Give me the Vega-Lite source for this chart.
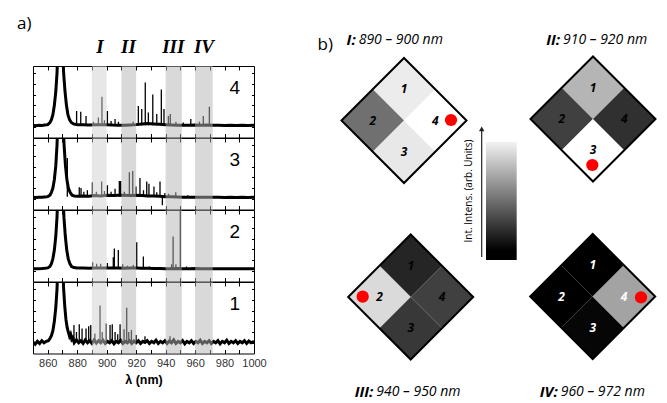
{
"$schema": "https://vega.github.io/schema/vega-lite/v6.json",
"padding": {"left": 17, "top": 10, "right": 0, "bottom": 0},
"background": "white",
"config": {
  "view": {"stroke": "black", "strokeWidth": 1},
  "font": "Open Sans",
  "axis": {"domain": false, "grid": false, "tickColor": "black", "tickWidth": 1, "labelFont": "Liberation Sans", "labelFontSize": 11, "labelColor": "#333", "titleFont": "Liberation Sans"}
},
"datasets": {
  "roman": [{"label": "I", "nm": 895.5}, {"label": "II", "nm": 914.8}, {"label": "III", "nm": 945.2}, {"label": "IV", "nm": 966}],
  "bands": [{"band": "I", "lo": 890, "hi": 900}, {"band": "II", "lo": 910, "hi": 920}, {"band": "III", "lo": 940, "hi": 951}, {"band": "IV", "lo": 960, "hi": 972}],
  "plabels": [{"p": 4, "label": "4"}, {"p": 3, "label": "3"}, {"p": 2, "label": "2"}, {"p": 1, "label": "1"}],
  "spec": [
    {"p":4,"nm":850,"v":0.17},{"p":4,"nm":852,"v":0.165},{"p":4,"nm":854,"v":0.172},{"p":4,"nm":856,"v":0.168},{"p":4,"nm":858,"v":0.175},{"p":4,"nm":860,"v":0.18},{"p":4,"nm":861.5,"v":0.21},{"p":4,"nm":862.5,"v":0.25},{"p":4,"nm":863.5,"v":0.32},{"p":4,"nm":864.5,"v":0.45},{"p":4,"nm":865.5,"v":0.65},{"p":4,"nm":866.3,"v":0.9},{"p":4,"nm":867,"v":1.3},{"p":4,"nm":870,"v":1.3},{"p":4,"nm":870.8,"v":0.9},{"p":4,"nm":871.7,"v":0.65},{"p":4,"nm":872.7,"v":0.45},{"p":4,"nm":873.7,"v":0.32},{"p":4,"nm":874.8,"v":0.25},{"p":4,"nm":876,"v":0.21},{"p":4,"nm":877.5,"v":0.19},{"p":4,"nm":880,"v":0.18},{"p":4,"nm":884,"v":0.178},{"p":4,"nm":888,"v":0.175},{"p":4,"nm":892,"v":0.18},{"p":4,"nm":896,"v":0.178},{"p":4,"nm":900,"v":0.18},{"p":4,"nm":904,"v":0.175},{"p":4,"nm":908,"v":0.172},{"p":4,"nm":912,"v":0.17},{"p":4,"nm":916,"v":0.175},{"p":4,"nm":920,"v":0.18},{"p":4,"nm":924,"v":0.19},{"p":4,"nm":928,"v":0.195},{"p":4,"nm":932,"v":0.19},{"p":4,"nm":936,"v":0.185},{"p":4,"nm":940,"v":0.18},{"p":4,"nm":944,"v":0.175},{"p":4,"nm":948,"v":0.17},{"p":4,"nm":952,"v":0.172},{"p":4,"nm":956,"v":0.17},{"p":4,"nm":960,"v":0.175},{"p":4,"nm":964,"v":0.172},{"p":4,"nm":968,"v":0.175},{"p":4,"nm":972,"v":0.17},{"p":4,"nm":976,"v":0.172},{"p":4,"nm":980,"v":0.168},{"p":4,"nm":984,"v":0.17},{"p":4,"nm":988,"v":0.168},{"p":4,"nm":992,"v":0.17},{"p":4,"nm":996,"v":0.168},{"p":4,"nm":1000,"v":0.17},
    {"p":3,"nm":850,"v":0.17},{"p":3,"nm":852,"v":0.168},{"p":3,"nm":854,"v":0.172},{"p":3,"nm":856,"v":0.17},{"p":3,"nm":858,"v":0.175},{"p":3,"nm":860,"v":0.18},{"p":3,"nm":861.5,"v":0.2},{"p":3,"nm":862.5,"v":0.24},{"p":3,"nm":863.5,"v":0.3},{"p":3,"nm":864.5,"v":0.42},{"p":3,"nm":865.5,"v":0.62},{"p":3,"nm":866.3,"v":0.9},{"p":3,"nm":867,"v":1.3},{"p":3,"nm":870.3,"v":1.3},{"p":3,"nm":871.1,"v":0.9},{"p":3,"nm":872,"v":0.62},{"p":3,"nm":873,"v":0.42},{"p":3,"nm":874,"v":0.3},{"p":3,"nm":875.2,"v":0.24},{"p":3,"nm":876.5,"v":0.2},{"p":3,"nm":878,"v":0.19},{"p":3,"nm":880,"v":0.185},{"p":3,"nm":884,"v":0.19},{"p":3,"nm":888,"v":0.185},{"p":3,"nm":892,"v":0.195},{"p":3,"nm":896,"v":0.19},{"p":3,"nm":900,"v":0.2},{"p":3,"nm":904,"v":0.195},{"p":3,"nm":908,"v":0.2},{"p":3,"nm":912,"v":0.2},{"p":3,"nm":916,"v":0.195},{"p":3,"nm":920,"v":0.2},{"p":3,"nm":924,"v":0.195},{"p":3,"nm":928,"v":0.19},{"p":3,"nm":932,"v":0.19},{"p":3,"nm":936,"v":0.185},{"p":3,"nm":940,"v":0.18},{"p":3,"nm":944,"v":0.178},{"p":3,"nm":948,"v":0.175},{"p":3,"nm":952,"v":0.172},{"p":3,"nm":956,"v":0.17},{"p":3,"nm":960,"v":0.172},{"p":3,"nm":964,"v":0.17},{"p":3,"nm":968,"v":0.172},{"p":3,"nm":972,"v":0.17},{"p":3,"nm":976,"v":0.17},{"p":3,"nm":980,"v":0.168},{"p":3,"nm":984,"v":0.17},{"p":3,"nm":988,"v":0.168},{"p":3,"nm":992,"v":0.17},{"p":3,"nm":996,"v":0.168},{"p":3,"nm":1000,"v":0.17},
    {"p":2,"nm":850,"v":0.18},{"p":2,"nm":852,"v":0.178},{"p":2,"nm":854,"v":0.18},{"p":2,"nm":856,"v":0.182},{"p":2,"nm":858,"v":0.185},{"p":2,"nm":860,"v":0.19},{"p":2,"nm":861.5,"v":0.21},{"p":2,"nm":862.5,"v":0.25},{"p":2,"nm":863.5,"v":0.32},{"p":2,"nm":864.5,"v":0.44},{"p":2,"nm":865.5,"v":0.64},{"p":2,"nm":866.3,"v":0.9},{"p":2,"nm":867,"v":1.3},{"p":2,"nm":870.2,"v":1.3},{"p":2,"nm":871,"v":0.9},{"p":2,"nm":871.9,"v":0.64},{"p":2,"nm":872.9,"v":0.44},{"p":2,"nm":873.9,"v":0.32},{"p":2,"nm":875,"v":0.25},{"p":2,"nm":876.2,"v":0.21},{"p":2,"nm":877.7,"v":0.195},{"p":2,"nm":880,"v":0.19},{"p":2,"nm":884,"v":0.188},{"p":2,"nm":888,"v":0.185},{"p":2,"nm":892,"v":0.19},{"p":2,"nm":896,"v":0.188},{"p":2,"nm":900,"v":0.19},{"p":2,"nm":904,"v":0.188},{"p":2,"nm":908,"v":0.19},{"p":2,"nm":912,"v":0.185},{"p":2,"nm":916,"v":0.188},{"p":2,"nm":920,"v":0.19},{"p":2,"nm":924,"v":0.185},{"p":2,"nm":928,"v":0.185},{"p":2,"nm":932,"v":0.182},{"p":2,"nm":936,"v":0.182},{"p":2,"nm":940,"v":0.18},{"p":2,"nm":944,"v":0.18},{"p":2,"nm":948,"v":0.182},{"p":2,"nm":952,"v":0.18},{"p":2,"nm":956,"v":0.18},{"p":2,"nm":960,"v":0.182},{"p":2,"nm":964,"v":0.18},{"p":2,"nm":968,"v":0.18},{"p":2,"nm":972,"v":0.178},{"p":2,"nm":976,"v":0.18},{"p":2,"nm":980,"v":0.178},{"p":2,"nm":984,"v":0.18},{"p":2,"nm":988,"v":0.178},{"p":2,"nm":992,"v":0.18},{"p":2,"nm":996,"v":0.178},{"p":2,"nm":1000,"v":0.18},
    {"p":1,"nm":850,"v":0.16},{"p":1,"nm":851.5,"v":0.13},{"p":1,"nm":853,"v":0.17},{"p":1,"nm":854.5,"v":0.14},{"p":1,"nm":856,"v":0.18},{"p":1,"nm":857.5,"v":0.15},{"p":1,"nm":859,"v":0.17},{"p":1,"nm":860.5,"v":0.18},{"p":1,"nm":861.5,"v":0.21},{"p":1,"nm":862.5,"v":0.25},{"p":1,"nm":863.5,"v":0.32},{"p":1,"nm":864.5,"v":0.45},{"p":1,"nm":865.5,"v":0.65},{"p":1,"nm":866.3,"v":0.9},{"p":1,"nm":867,"v":1.3},{"p":1,"nm":870,"v":1.3},{"p":1,"nm":870.8,"v":0.9},{"p":1,"nm":871.6,"v":0.65},{"p":1,"nm":872.4,"v":0.47},{"p":1,"nm":873.2,"v":0.36},{"p":1,"nm":874,"v":0.3},{"p":1,"nm":874.8,"v":0.24},{"p":1,"nm":875.5,"v":0.27},{"p":1,"nm":876.3,"v":0.2},{"p":1,"nm":877,"v":0.22},{"p":1,"nm":878,"v":0.15},{"p":1,"nm":879.5,"v":0.19},{"p":1,"nm":881,"v":0.15},{"p":1,"nm":882.5,"v":0.18},{"p":1,"nm":884,"v":0.14},{"p":1,"nm":885.5,"v":0.19},{"p":1,"nm":887,"v":0.15},{"p":1,"nm":888.5,"v":0.18},{"p":1,"nm":890,"v":0.14},{"p":1,"nm":891.5,"v":0.19},{"p":1,"nm":893,"v":0.145},{"p":1,"nm":894.5,"v":0.18},{"p":1,"nm":896,"v":0.15},{"p":1,"nm":897.5,"v":0.185},{"p":1,"nm":899,"v":0.14},{"p":1,"nm":900.5,"v":0.17},{"p":1,"nm":902,"v":0.15},{"p":1,"nm":903.5,"v":0.18},{"p":1,"nm":905,"v":0.135},{"p":1,"nm":906.5,"v":0.17},{"p":1,"nm":908,"v":0.15},{"p":1,"nm":909.5,"v":0.185},{"p":1,"nm":911,"v":0.14},{"p":1,"nm":912.5,"v":0.17},{"p":1,"nm":914,"v":0.15},{"p":1,"nm":915.5,"v":0.18},{"p":1,"nm":917,"v":0.14},{"p":1,"nm":918.5,"v":0.175},{"p":1,"nm":920,"v":0.15},{"p":1,"nm":921.5,"v":0.18},{"p":1,"nm":923,"v":0.14},{"p":1,"nm":924.5,"v":0.17},{"p":1,"nm":926,"v":0.155},{"p":1,"nm":927.5,"v":0.18},{"p":1,"nm":929,"v":0.14},{"p":1,"nm":930.5,"v":0.17},{"p":1,"nm":932,"v":0.15},{"p":1,"nm":933.5,"v":0.185},{"p":1,"nm":935,"v":0.14},{"p":1,"nm":936.5,"v":0.17},{"p":1,"nm":938,"v":0.15},{"p":1,"nm":939.5,"v":0.18},{"p":1,"nm":941,"v":0.14},{"p":1,"nm":942.5,"v":0.175},{"p":1,"nm":944,"v":0.15},{"p":1,"nm":945.5,"v":0.19},{"p":1,"nm":947,"v":0.14},{"p":1,"nm":948.5,"v":0.17},{"p":1,"nm":950,"v":0.15},{"p":1,"nm":951.5,"v":0.18},{"p":1,"nm":953,"v":0.135},{"p":1,"nm":954.5,"v":0.17},{"p":1,"nm":956,"v":0.15},{"p":1,"nm":957.5,"v":0.18},{"p":1,"nm":959,"v":0.14},{"p":1,"nm":960.5,"v":0.17},{"p":1,"nm":962,"v":0.15},{"p":1,"nm":963.5,"v":0.185},{"p":1,"nm":965,"v":0.14},{"p":1,"nm":966.5,"v":0.17},{"p":1,"nm":968,"v":0.15},{"p":1,"nm":969.5,"v":0.18},{"p":1,"nm":971,"v":0.14},{"p":1,"nm":972.5,"v":0.17},{"p":1,"nm":974,"v":0.15},{"p":1,"nm":975.5,"v":0.18},{"p":1,"nm":977,"v":0.135},{"p":1,"nm":978.5,"v":0.17},{"p":1,"nm":980,"v":0.15},{"p":1,"nm":981.5,"v":0.185},{"p":1,"nm":983,"v":0.14},{"p":1,"nm":984.5,"v":0.17},{"p":1,"nm":986,"v":0.15},{"p":1,"nm":987.5,"v":0.18},{"p":1,"nm":989,"v":0.14},{"p":1,"nm":990.5,"v":0.17},{"p":1,"nm":992,"v":0.15},{"p":1,"nm":993.5,"v":0.18},{"p":1,"nm":995,"v":0.14},{"p":1,"nm":996.5,"v":0.175},{"p":1,"nm":998,"v":0.15},{"p":1,"nm":1000,"v":0.17}
  ],
  "spikes": [
    {"p":4,"nm":879.6,"v":0.37},{"p":4,"nm":882.4,"v":0.36},{"p":4,"nm":886,"v":0.3},{"p":4,"nm":891,"v":0.22},{"p":4,"nm":894.4,"v":0.28},{"p":4,"nm":896.8,"v":0.57},{"p":4,"nm":898.5,"v":0.24},{"p":4,"nm":900.5,"v":0.37},{"p":4,"nm":903,"v":0.23},{"p":4,"nm":905.7,"v":0.26},{"p":4,"nm":908,"v":0.22},{"p":4,"nm":918,"v":0.22},{"p":4,"nm":921.5,"v":0.44},{"p":4,"nm":923.8,"v":0.4},{"p":4,"nm":926.2,"v":0.77},{"p":4,"nm":928.3,"v":0.35},{"p":4,"nm":931.3,"v":0.6},{"p":4,"nm":934,"v":0.33},{"p":4,"nm":937.1,"v":0.67},{"p":4,"nm":938.9,"v":0.4},{"p":4,"nm":941.9,"v":0.3},{"p":4,"nm":943.2,"v":0.33},{"p":4,"nm":947,"v":0.22},{"p":4,"nm":952,"v":0.21},{"p":4,"nm":957.1,"v":0.26},{"p":4,"nm":963,"v":0.22},{"p":4,"nm":965.6,"v":0.3},{"p":4,"nm":969.7,"v":0.43},
    {"p":3,"nm":873.3,"v":0.72},{"p":3,"nm":881.4,"v":0.31},{"p":3,"nm":882.6,"v":0.3},{"p":3,"nm":884.5,"v":0.25},{"p":3,"nm":886.9,"v":0.27},{"p":3,"nm":890.3,"v":0.38},{"p":3,"nm":893,"v":0.25},{"p":3,"nm":896.6,"v":0.39},{"p":3,"nm":898.5,"v":0.26},{"p":3,"nm":900.5,"v":0.34},{"p":3,"nm":903,"v":0.25},{"p":3,"nm":905.7,"v":0.29},{"p":3,"nm":908.6,"v":0.4},{"p":3,"nm":909.5,"v":0.4},{"p":3,"nm":912,"v":0.25},{"p":3,"nm":915.4,"v":0.52},{"p":3,"nm":917.7,"v":0.54},{"p":3,"nm":919.9,"v":0.32},{"p":3,"nm":922.6,"v":0.44},{"p":3,"nm":925,"v":0.27},{"p":3,"nm":927.2,"v":0.39},{"p":3,"nm":928.7,"v":0.36},{"p":3,"nm":932.1,"v":0.32},{"p":3,"nm":934,"v":0.24},{"p":3,"nm":936.2,"v":0.39},{"p":3,"nm":937.8,"v":0.06},{"p":3,"nm":939.5,"v":0.23},{"p":3,"nm":942,"v":0.22},{"p":3,"nm":946.9,"v":0.24},{"p":3,"nm":955,"v":0.2},
    {"p":2,"nm":890.5,"v":0.27},{"p":2,"nm":893.2,"v":0.25},{"p":2,"nm":895.9,"v":0.25},{"p":2,"nm":900.5,"v":0.26},{"p":2,"nm":904.5,"v":0.34},{"p":2,"nm":905.2,"v":0.46},{"p":2,"nm":907.9,"v":0.44},{"p":2,"nm":910.9,"v":0.24},{"p":2,"nm":914,"v":0.22},{"p":2,"nm":918.1,"v":0.23},{"p":2,"nm":920.4,"v":0.55},{"p":2,"nm":924.9,"v":0.35},{"p":2,"nm":929,"v":0.21},{"p":2,"nm":944.1,"v":0.24},{"p":2,"nm":945.1,"v":0.63},{"p":2,"nm":947,"v":0.24},{"p":2,"nm":950,"v":1.02},{"p":2,"nm":954.2,"v":0.21},
    {"p":1,"nm":876.2,"v":0.27},{"p":1,"nm":877.8,"v":0.4},{"p":1,"nm":879.5,"v":0.3},{"p":1,"nm":881.4,"v":0.41},{"p":1,"nm":883.3,"v":0.35},{"p":1,"nm":886,"v":0.35},{"p":1,"nm":887.8,"v":0.38},{"p":1,"nm":889.2,"v":0.4},{"p":1,"nm":892,"v":0.28},{"p":1,"nm":895.5,"v":0.67},{"p":1,"nm":897,"v":0.3},{"p":1,"nm":899.6,"v":0.42},{"p":1,"nm":902.3,"v":0.4},{"p":1,"nm":903.8,"v":0.41},{"p":1,"nm":905.7,"v":0.3},{"p":1,"nm":907.5,"v":0.27},{"p":1,"nm":909.1,"v":0.41},{"p":1,"nm":911.8,"v":0.34},{"p":1,"nm":913.6,"v":0.64},{"p":1,"nm":915,"v":0.3},{"p":1,"nm":916.8,"v":0.33},{"p":1,"nm":920,"v":0.26},{"p":1,"nm":926,"v":0.24},{"p":1,"nm":943,"v":0.24}
  ],
  "quads": [
    {"map":"I","q":"1","x":-1.536,"y":1.9,"intensity":0.925},{"map":"I","q":"2","x":-2.036,"y":1.4,"intensity":0.44},{"map":"I","q":"3","x":-1.536,"y":0.9,"intensity":0.91},{"map":"I","q":"4","x":-1.036,"y":1.4,"intensity":1.0},
    {"map":"II","q":"1","x":1.488,"y":1.924,"intensity":0.71},{"map":"II","q":"2","x":0.988,"y":1.424,"intensity":0.25},{"map":"II","q":"3","x":1.488,"y":0.924,"intensity":1.0},{"map":"II","q":"4","x":1.988,"y":1.424,"intensity":0.19},
    {"map":"III","q":"1","x":-1.429,"y":-0.924,"intensity":0.145},{"map":"III","q":"2","x":-1.929,"y":-1.424,"intensity":0.855},{"map":"III","q":"3","x":-1.429,"y":-1.924,"intensity":0.22},{"map":"III","q":"4","x":-0.929,"y":-1.424,"intensity":0.25},
    {"map":"IV","q":"1","x":1.483,"y":-0.916,"intensity":0.0},{"map":"IV","q":"2","x":0.983,"y":-1.416,"intensity":0.0},{"map":"IV","q":"3","x":1.483,"y":-1.916,"intensity":0.025},{"map":"IV","q":"4","x":1.983,"y":-1.416,"intensity":0.64}
  ],
  "maps": [{"map":"I","x":-1.536,"y":1.4},{"map":"II","x":1.488,"y":1.424},{"map":"III","x":-1.429,"y":-1.424},{"map":"IV","x":1.483,"y":-1.416}],
  "dots": [{"map":"I","x":-0.784,"y":1.408},{"map":"II","x":1.477,"y":0.688},{"map":"III","x":-2.197,"y":-1.419},{"map":"IV","x":2.256,"y":-1.429}],
  "titles": [
    {"tag":"I:","range":"890 – 900 nm","x":-2.293,"y":2.688},
    {"tag":"II:","range":"910 – 920 nm","x":0.976,"y":2.688},
    {"tag":"III:","range":"940 – 950 nm","x":-2.011,"y":-2.939},
    {"tag":"IV:","range":"960 – 972 nm","x":0.939,"y":-2.939}
  ],
  "cbar": [{"x1":-0.224,"x2":0.267,"y1":1.056,"y2":-0.832}],
  "arrow": [{"x":-0.293,"y1":-0.784,"y2":1.24,"tip":1.265}],
  "cblabel": [{"x":-0.496,"y":0.272,"text":"Int. Intens. (arb. Units)"}],
  "blabel": [{"x":-2.92,"y":2.61,"text":"b)"}],
  "alabel": [{"text":"a)"}]
},
"bounds": "flush",
"spacing": 292,
"hconcat": [
  {
    "bounds": "flush",
    "spacing": 0,
    "vconcat": [
      {
        "width": 221, "height": 56, "view": {"stroke": null},
        "layer": [
          {"data": {"name": "roman"}, "mark": {"type": "text", "font": "Liberation Serif", "fontSize": 19, "fontWeight": "bold", "fontStyle": "italic", "baseline": "middle", "align": "center"},
           "encoding": {"x": {"field": "nm", "type": "quantitative", "scale": {"domain": [850, 1000], "nice": false, "zero": false}, "axis": null},
                        "y": {"datum": 0.34, "type": "quantitative", "scale": {"domain": [0, 1], "nice": false, "zero": false}, "axis": null},
                        "text": {"field": "label"}}},
          {"data": {"name": "alabel"}, "mark": {"type": "text", "font": "Open Sans", "fontSize": 17, "baseline": "middle", "align": "left"},
           "encoding": {"x": {"datum": 839.2, "type": "quantitative", "axis": null}, "y": {"datum": 0.75, "type": "quantitative", "axis": null}, "text": {"field": "text"}}}
        ]
      },
      {
        "width": 221, "height": 71.5,
        "layer": [
          {"data": {"name": "spec"}, "transform": [{"filter": "datum.p == 4"}],
           "mark": {"type": "line", "color": "black", "strokeWidth": 3, "clip": true},
           "encoding": {"x": {"field": "nm", "type": "quantitative", "scale": {"domain": [850, 1000], "nice": false, "zero": false}, "axis": {"orient": "top", "values": [860,870,880,890,900,910,920,930,940,950,960,970,980,990], "labels": false, "tickSize": -4, "title": null}},
                        "y": {"field": "v", "type": "quantitative", "scale": {"domain": [0, 1], "nice": false, "zero": false}, "axis": {"orient": "left", "values": [0.15,0.3,0.45,0.6,0.75,0.9], "labels": false, "tickSize": -2.5, "title": null}}}},
          {"data": {"name": "spikes"}, "transform": [{"filter": "datum.p == 4"}],
           "mark": {"type": "rule", "color": "black", "strokeWidth": 1.3, "clip": true},
           "encoding": {"x": {"field": "nm", "type": "quantitative", "axis": null},
                        "y": {"field": "v", "type": "quantitative", "axis": {"orient": "right", "values": [0.15,0.3,0.45,0.6,0.75,0.9], "labels": false, "tickSize": -2.5, "title": null}},
                        "y2": {"datum": 0.17}}},
          {"data": {"name": "bands"}, "mark": {"type": "rect", "opacity": 0.5},
           "encoding": {"x": {"field": "lo", "type": "quantitative", "axis": {"orient": "bottom", "values": [860,870,880,890,900,910,920,930,940,950,960,970,980,990], "labels": false, "tickSize": -4, "title": null}},
                        "x2": {"field": "hi"},
                        "color": {"condition": {"test": "datum.band == 'I'", "value": "#cfcfcf"}, "value": "#b4b4b4"}}},
          {"data": {"name": "plabels"}, "transform": [{"filter": "datum.p == 4"}],
           "mark": {"type": "text", "font": "Liberation Sans", "fontSize": 19, "baseline": "middle", "align": "center"},
           "encoding": {"x": {"datum": 987, "type": "quantitative", "axis": null}, "y": {"datum": 0.69, "type": "quantitative", "axis": null}, "text": {"field": "label"}}}
        ],
        "resolve": {"axis": {"x": "independent", "y": "independent"}}
      },
      {
        "width": 221, "height": 71.5,
        "layer": [
          {"data": {"name": "spec"}, "transform": [{"filter": "datum.p == 3"}],
           "mark": {"type": "line", "color": "black", "strokeWidth": 3, "clip": true},
           "encoding": {"x": {"field": "nm", "type": "quantitative", "scale": {"domain": [850, 1000], "nice": false, "zero": false}, "axis": {"orient": "top", "values": [860,870,880,890,900,910,920,930,940,950,960,970,980,990], "labels": false, "tickSize": -4, "title": null}},
                        "y": {"field": "v", "type": "quantitative", "scale": {"domain": [0, 1], "nice": false, "zero": false}, "axis": {"orient": "left", "values": [0.15,0.3,0.45,0.6,0.75,0.9], "labels": false, "tickSize": -2.5, "title": null}}}},
          {"data": {"name": "spikes"}, "transform": [{"filter": "datum.p == 3"}],
           "mark": {"type": "rule", "color": "black", "strokeWidth": 1.3, "clip": true},
           "encoding": {"x": {"field": "nm", "type": "quantitative", "axis": null},
                        "y": {"field": "v", "type": "quantitative", "axis": {"orient": "right", "values": [0.15,0.3,0.45,0.6,0.75,0.9], "labels": false, "tickSize": -2.5, "title": null}},
                        "y2": {"datum": 0.18}}},
          {"data": {"name": "bands"}, "mark": {"type": "rect", "opacity": 0.5},
           "encoding": {"x": {"field": "lo", "type": "quantitative", "axis": {"orient": "bottom", "values": [860,870,880,890,900,910,920,930,940,950,960,970,980,990], "labels": false, "tickSize": -4, "title": null}},
                        "x2": {"field": "hi"},
                        "color": {"condition": {"test": "datum.band == 'I'", "value": "#cfcfcf"}, "value": "#b4b4b4"}}},
          {"data": {"name": "plabels"}, "transform": [{"filter": "datum.p == 3"}],
           "mark": {"type": "text", "font": "Liberation Sans", "fontSize": 19, "baseline": "middle", "align": "center"},
           "encoding": {"x": {"datum": 987, "type": "quantitative", "axis": null}, "y": {"datum": 0.69, "type": "quantitative", "axis": null}, "text": {"field": "label"}}}
        ],
        "resolve": {"axis": {"x": "independent", "y": "independent"}}
      },
      {
        "width": 221, "height": 71.5,
        "layer": [
          {"data": {"name": "spec"}, "transform": [{"filter": "datum.p == 2"}],
           "mark": {"type": "line", "color": "black", "strokeWidth": 3, "clip": true},
           "encoding": {"x": {"field": "nm", "type": "quantitative", "scale": {"domain": [850, 1000], "nice": false, "zero": false}, "axis": {"orient": "top", "values": [860,870,880,890,900,910,920,930,940,950,960,970,980,990], "labels": false, "tickSize": -4, "title": null}},
                        "y": {"field": "v", "type": "quantitative", "scale": {"domain": [0, 1], "nice": false, "zero": false}, "axis": {"orient": "left", "values": [0.15,0.3,0.45,0.6,0.75,0.9], "labels": false, "tickSize": -2.5, "title": null}}}},
          {"data": {"name": "spikes"}, "transform": [{"filter": "datum.p == 2"}],
           "mark": {"type": "rule", "color": "black", "strokeWidth": 1.3, "clip": true},
           "encoding": {"x": {"field": "nm", "type": "quantitative", "axis": null},
                        "y": {"field": "v", "type": "quantitative", "axis": {"orient": "right", "values": [0.15,0.3,0.45,0.6,0.75,0.9], "labels": false, "tickSize": -2.5, "title": null}},
                        "y2": {"datum": 0.18}}},
          {"data": {"name": "bands"}, "mark": {"type": "rect", "opacity": 0.5},
           "encoding": {"x": {"field": "lo", "type": "quantitative", "axis": {"orient": "bottom", "values": [860,870,880,890,900,910,920,930,940,950,960,970,980,990], "labels": false, "tickSize": -4, "title": null}},
                        "x2": {"field": "hi"},
                        "color": {"condition": {"test": "datum.band == 'I'", "value": "#cfcfcf"}, "value": "#b4b4b4"}}},
          {"data": {"name": "plabels"}, "transform": [{"filter": "datum.p == 2"}],
           "mark": {"type": "text", "font": "Liberation Sans", "fontSize": 19, "baseline": "middle", "align": "center"},
           "encoding": {"x": {"datum": 987, "type": "quantitative", "axis": null}, "y": {"datum": 0.69, "type": "quantitative", "axis": null}, "text": {"field": "label"}}}
        ],
        "resolve": {"axis": {"x": "independent", "y": "independent"}}
      },
      {
        "width": 221, "height": 71.5,
        "layer": [
          {"data": {"name": "spec"}, "transform": [{"filter": "datum.p == 1"}],
           "mark": {"type": "line", "color": "black", "strokeWidth": 3, "clip": true},
           "encoding": {"x": {"field": "nm", "type": "quantitative", "scale": {"domain": [850, 1000], "nice": false, "zero": false}, "axis": {"orient": "top", "values": [860,870,880,890,900,910,920,930,940,950,960,970,980,990], "labels": false, "tickSize": -4, "title": null}},
                        "y": {"field": "v", "type": "quantitative", "scale": {"domain": [0, 1], "nice": false, "zero": false}, "axis": {"orient": "left", "values": [0.15,0.3,0.45,0.6,0.75,0.9], "labels": false, "tickSize": -2.5, "title": null}}}},
          {"data": {"name": "spikes"}, "transform": [{"filter": "datum.p == 1"}],
           "mark": {"type": "rule", "color": "black", "strokeWidth": 1.3, "clip": true},
           "encoding": {"x": {"field": "nm", "type": "quantitative", "axis": null},
                        "y": {"field": "v", "type": "quantitative", "axis": {"orient": "right", "values": [0.15,0.3,0.45,0.6,0.75,0.9], "labels": false, "tickSize": -2.5, "title": null}},
                        "y2": {"datum": 0.16}}},
          {"data": {"name": "bands"}, "mark": {"type": "rect", "opacity": 0.5},
           "encoding": {"x": {"field": "lo", "type": "quantitative", "axis": {"orient": "bottom", "values": [860,870,880,890,900,910,920,930,940,950,960,970,980,990,1000], "format": "d", "labelExpr": "datum.value % 20 == 0 ? datum.label : ''", "labelOverlap": false, "labelFlush": false, "tickSize": -4, "labelPadding": 8, "title": "λ (nm)", "titleFontWeight": "bold", "titleFontSize": 12.5, "titleColor": "black", "titlePadding": 5}},
                        "x2": {"field": "hi"},
                        "color": {"condition": {"test": "datum.band == 'I'", "value": "#cfcfcf"}, "value": "#b4b4b4"}}},
          {"data": {"name": "plabels"}, "transform": [{"filter": "datum.p == 1"}],
           "mark": {"type": "text", "font": "Liberation Sans", "fontSize": 19, "baseline": "middle", "align": "center"},
           "encoding": {"x": {"datum": 987, "type": "quantitative", "axis": null}, "y": {"datum": 0.69, "type": "quantitative", "axis": null}, "text": {"field": "label"}}}
        ],
        "resolve": {"axis": {"x": "independent", "y": "independent"}}
      }
    ]
  },
  {
    "width": 337.5, "height": 388.625, "view": {"stroke": null},
    "layer": [
      {"data": {"name": "quads"}, "mark": {"type": "point", "shape": "diamond", "filled": true, "size": 3906, "strokeWidth": 0, "opacity": 1},
       "encoding": {"x": {"field": "x", "type": "quantitative", "scale": {"domain": [-2.8, 2.6], "nice": false, "zero": false}, "axis": null},
                    "y": {"field": "y", "type": "quantitative", "scale": {"domain": [-3.05, 3.168], "nice": false, "zero": false}, "axis": null},
                    "color": {"field": "intensity", "type": "quantitative", "scale": {"domain": [0, 1], "range": ["#000000", "#ffffff"], "interpolate": "rgb"}, "legend": null}}},
      {"data": {"name": "maps"}, "mark": {"type": "point", "shape": "diamond", "filled": false, "size": 15625, "color": "black", "strokeWidth": 2, "opacity": 1},
       "encoding": {"x": {"field": "x", "type": "quantitative", "axis": null}, "y": {"field": "y", "type": "quantitative", "axis": null}}},
      {"data": {"name": "quads"}, "mark": {"type": "text", "font": "Open Sans", "fontSize": 12, "fontWeight": "bold", "fontStyle": "italic", "baseline": "middle", "align": "center"},
       "encoding": {"x": {"field": "x", "type": "quantitative", "axis": null}, "y": {"field": "y", "type": "quantitative", "axis": null}, "text": {"field": "q"},
                    "color": {"condition": {"test": "datum.map == 'IV'", "value": "white"}, "value": "black"}}},
      {"data": {"name": "dots"}, "mark": {"type": "circle", "size": 150, "color": "#ff0000", "opacity": 1},
       "encoding": {"x": {"field": "x", "type": "quantitative", "axis": null}, "y": {"field": "y", "type": "quantitative", "axis": null}}},
      {"data": {"name": "titles"}, "mark": {"type": "text", "font": "Open Sans", "fontSize": 15, "fontWeight": "bold", "fontStyle": "italic", "baseline": "middle", "align": "right", "dx": -1},
       "encoding": {"x": {"field": "x", "type": "quantitative", "axis": null}, "y": {"field": "y", "type": "quantitative", "axis": null}, "text": {"field": "tag"}}},
      {"data": {"name": "titles"}, "mark": {"type": "text", "font": "Open Sans", "fontSize": 14, "fontStyle": "italic", "baseline": "middle", "align": "left", "dx": 2},
       "encoding": {"x": {"field": "x", "type": "quantitative", "axis": null}, "y": {"field": "y", "type": "quantitative", "axis": null}, "text": {"field": "range"}}},
      {"data": {"name": "cbar"}, "mark": {"type": "rect", "color": {"gradient": "linear", "x1": 0, "y1": 0, "x2": 0, "y2": 1, "stops": [{"offset": 0, "color": "#f2f2f2"}, {"offset": 0.92, "color": "#000000"}, {"offset": 1, "color": "#000000"}]}},
       "encoding": {"x": {"field": "x1", "type": "quantitative", "axis": null}, "x2": {"field": "x2"}, "y": {"field": "y1", "type": "quantitative", "axis": null}, "y2": {"field": "y2"}}},
      {"data": {"name": "arrow"}, "mark": {"type": "rule", "color": "#222", "strokeWidth": 1.2},
       "encoding": {"x": {"field": "x", "type": "quantitative", "axis": null}, "y": {"field": "y1", "type": "quantitative", "axis": null}, "y2": {"field": "y2"}}},
      {"data": {"name": "arrow"}, "mark": {"type": "point", "shape": "triangle-up", "filled": true, "size": 30, "color": "#222", "opacity": 1},
       "encoding": {"x": {"field": "x", "type": "quantitative", "axis": null}, "y": {"field": "tip", "type": "quantitative", "axis": null}}},
      {"data": {"name": "cblabel"}, "mark": {"type": "text", "font": "Open Sans", "fontSize": 10, "angle": 270, "baseline": "middle", "align": "center"},
       "encoding": {"x": {"field": "x", "type": "quantitative", "axis": null}, "y": {"field": "y", "type": "quantitative", "axis": null}, "text": {"field": "text"}}},
      {"data": {"name": "blabel"}, "mark": {"type": "text", "font": "Open Sans", "fontSize": 17, "baseline": "middle", "align": "left"},
       "encoding": {"x": {"field": "x", "type": "quantitative", "axis": null}, "y": {"field": "y", "type": "quantitative", "axis": null}, "text": {"field": "text"}}}
    ]
  }
]
}
